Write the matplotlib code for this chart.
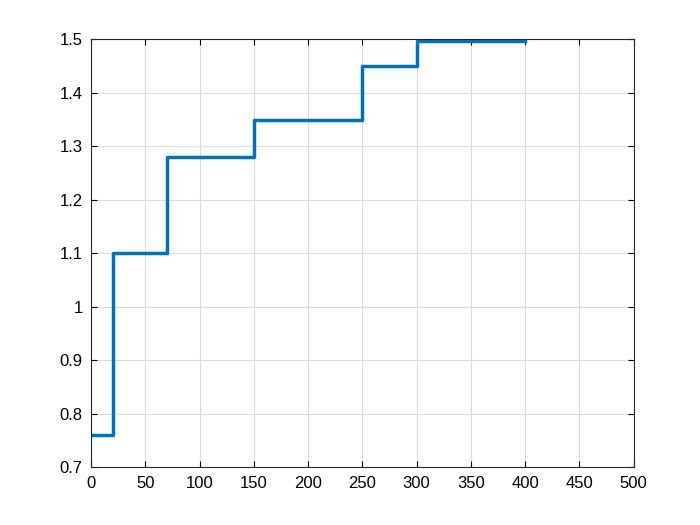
import matplotlib.pyplot as plt

plt.rcParams['font.family'] = ['Liberation Sans', 'DejaVu Sans']

# stair edges and levels
x_edges = [0, 20, 70, 150, 250, 300, 400]
y_levels = [0.76, 1.10, 1.28, 1.35, 1.45, 1.497, 1.497]

x_ticks = [0, 50, 100, 150, 200, 250, 300, 350, 400, 450, 500]
y_ticks = [0.7, 0.8, 0.9, 1.0, 1.1, 1.2, 1.3, 1.4, 1.5]
y_labels = ['0.7', '0.8', '0.9', '1', '1.1', '1.2', '1.3', '1.4', '1.5']

fig = plt.figure(figsize=(7, 5.25), dpi=100)
ax = fig.add_axes([0.13, 0.11, 0.775, 0.815])

ax.step(x_edges, y_levels, where='post', color='#0072BD', linewidth=2.5)

ax.set_xlim(0, 500)
ax.set_ylim(0.7, 1.5)
ax.set_xticks(x_ticks)
ax.set_yticks(y_ticks)
ax.set_yticklabels(y_labels)
ax.grid(True, color='#dcdcdc', linewidth=0.8)
ax.set_axisbelow(True)
ax.tick_params(direction='in', top=True, right=True, labelsize=12, length=4, pad=6)
for s in ax.spines.values():
    s.set_color('#262626')
    s.set_linewidth(0.8)

fig.savefig('out.png', dpi=100)
